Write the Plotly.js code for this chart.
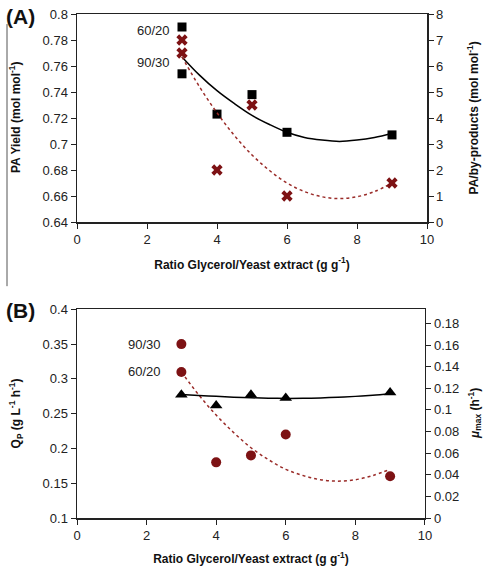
<!DOCTYPE html>
<html><head><meta charset="utf-8">
<script src="https://cdn.plot.ly/plotly-3.0.1.min.js"></script>
<style>html,body{margin:0;padding:0;background:#fff}</style>
</head><body><div id="chart" style="width:489px;height:566px"></div>
<script>
// Panel A data
const ratioA = [3, 3, 4, 5, 6, 9];
const paYield = [0.790, 0.754, 0.723, 0.738, 0.709, 0.707];
const paByProducts = [7.0, 6.5, 2.0, 4.5, 1.0, 1.5];
const fitX = [3, 3.5, 4, 4.5, 5, 5.5, 6, 6.5, 7, 7.5, 8, 8.5, 9];
const paYieldFit = [0.767, 0.753, 0.741, 0.731, 0.722, 0.715, 0.709, 0.705, 0.703, 0.702, 0.703, 0.705, 0.708];
const paByProdFit = [6.35, 5.2, 4.2, 3.32, 2.58, 1.98, 1.5, 1.17, 0.97, 0.9, 0.97, 1.17, 1.5];
// Panel B data
const ratioB = [3, 3, 4, 5, 6, 9];
const qp = [0.35, 0.31, 0.18, 0.19, 0.22, 0.16];
const ratioMu = [3, 4, 5, 6, 9];
const muMax = [0.114, 0.104, 0.114, 0.111, 0.116];
const qpFit = [0.31, 0.277, 0.248, 0.223, 0.201, 0.184, 0.170, 0.161, 0.155, 0.153, 0.155, 0.161, 0.170];
const muFit = [0.1143, 0.1133, 0.1125, 0.1118, 0.1112, 0.1108, 0.1106, 0.1107, 0.1110, 0.1116, 0.1125, 0.1136, 0.1150];
const xTicks = [0, 2, 4, 6, 8, 10];
const labelsA = ['60/20', '90/30'];
const labelsAy = [0.787, 0.763];
const labelsB = ['90/30', '60/20'];
const labelsBy = [0.35, 0.31];

const red = '#7d1214';
const dashRed = '#9a2b28';
const F = 'Liberation Sans, Arial, sans-serif';

const traces = [
  {x: fitX, y: paYieldFit, xaxis: 'x', yaxis: 'y', mode: 'lines', line: {color: '#000', width: 1.5, shape: 'spline'}, hoverinfo: 'skip'},
  {x: fitX, y: paByProdFit, xaxis: 'x', yaxis: 'y2', mode: 'lines', line: {color: dashRed, width: 1.5, dash: '3px,3px', shape: 'spline'}, hoverinfo: 'skip'},
  {x: ratioA, y: paYield, xaxis: 'x', yaxis: 'y', mode: 'markers', marker: {symbol: 'square', size: 9, color: '#000'}},
  {x: ratioA, y: paByProducts, xaxis: 'x', yaxis: 'y2', mode: 'markers', marker: {symbol: 'x', size: 10, color: red, line: {width: 0}}},
  {x: fitX, y: qpFit, xaxis: 'x2', yaxis: 'y3', mode: 'lines', line: {color: dashRed, width: 1.5, dash: '3px,3px', shape: 'spline'}, hoverinfo: 'skip'},
  {x: fitX, y: muFit, xaxis: 'x2', yaxis: 'y4', mode: 'lines', line: {color: '#000', width: 1.5, shape: 'spline'}, hoverinfo: 'skip'},
  {x: ratioB, y: qp, xaxis: 'x2', yaxis: 'y3', mode: 'markers', marker: {symbol: 'circle', size: 10, color: red}},
  {x: ratioMu, y: muMax, xaxis: 'x2', yaxis: 'y4', mode: 'markers', marker: {symbol: 'triangle-up', size: 11, color: '#000'}}
];

const tickF = {family: F, size: 13, color: '#222'};
const titleF = {family: F, size: 12, color: '#111', weight: 'bold'};
const axBase = {showgrid: false, zeroline: false, showline: true, linecolor: '#222', linewidth: 1.5, ticks: 'outside', ticklen: 5, tickwidth: 1, tickcolor: '#222', tickfont: tickF};

function yTitle(text, x, y) {
  return {text: text, xref: 'paper', yref: 'paper', x: x, y: y, xanchor: 'center', yanchor: 'middle', textangle: -90, showarrow: false, font: titleF};
}

const layout = {
  width: 489, height: 566,
  margin: {l: 77, r: 62, t: 14, b: 48},
  paper_bgcolor: '#fff', plot_bgcolor: '#fff',
  showlegend: false,
  xaxis: Object.assign({}, axBase, {domain: [0, 1], anchor: 'y', range: [0, 10], tickvals: xTicks, mirror: true,
    title: {text: 'Ratio Glycerol/Yeast extract (g g<sup>-1</sup>)', font: titleF}}),
  yaxis: Object.assign({}, axBase, {domain: [0.5873, 1], anchor: 'x', range: [0.64, 0.8], dtick: 0.02}),
  yaxis2: Object.assign({}, axBase, {domain: [0.5873, 1], anchor: 'x', overlaying: 'y', side: 'right', range: [0, 8], dtick: 1}),
  xaxis2: Object.assign({}, axBase, {domain: [0, 0.994], anchor: 'y3', range: [0, 10], tickvals: xTicks, mirror: true,
    title: {text: 'Ratio Glycerol/Yeast extract (g g<sup>-1</sup>)', font: titleF}}),
  yaxis3: Object.assign({}, axBase, {domain: [0, 0.414], anchor: 'x2', range: [0.1, 0.4], dtick: 0.05}),
  yaxis4: Object.assign({}, axBase, {domain: [0, 0.414], anchor: 'x2', overlaying: 'y3', side: 'right', range: [0, 0.193], dtick: 0.02}),
  annotations: [
    {text: '(A)', xref: 'paper', yref: 'paper', x: -0.21, y: 1.022, xanchor: 'left', yanchor: 'top', showarrow: false, font: {family: F, size: 21, color: '#111', weight: 'bold'}},
    {text: '(B)', xref: 'paper', yref: 'paper', x: -0.21, y: 0.438, xanchor: 'left', yanchor: 'top', showarrow: false, font: {family: F, size: 21, color: '#111', weight: 'bold'}},
    yTitle('PA Yield (mol mol<sup>-1</sup>)', -0.177, 0.7937),
    yTitle('PA/by-products (mol mol<sup>-1</sup>)', 1.13, 0.7937),
    yTitle('Q<sub>P</sub> (g L<sup>-1</sup> h<sup>-1</sup>)', -0.175, 0.207),
    yTitle('<i>μ</i><sub>max</sub> (h<sup>-1</sup>)', 1.135, 0.207),
    {text: labelsA[0], xref: 'x', yref: 'y', x: 3, y: labelsAy[0], xanchor: 'right', xshift: -10, showarrow: false, font: tickF},
    {text: labelsA[1], xref: 'x', yref: 'y', x: 3, y: labelsAy[1], xanchor: 'right', xshift: -10, showarrow: false, font: tickF},
    {text: labelsB[0], xref: 'x2', yref: 'y3', x: 3, y: labelsBy[0], xanchor: 'right', xshift: -18, showarrow: false, font: tickF},
    {text: labelsB[1], xref: 'x2', yref: 'y3', x: 3, y: labelsBy[1], xanchor: 'right', xshift: -18, showarrow: false, font: tickF}
  ],
  shapes: [
    {type: 'line', xref: 'paper', yref: 'paper', x0: -0.2, x1: -0.2, y0: 0.46, y1: 0.98, line: {color: '#555', width: 1}}
  ]
};
Plotly.newPlot('chart', traces, layout, {displayModeBar: false, staticPlot: true});
</script></body></html>
